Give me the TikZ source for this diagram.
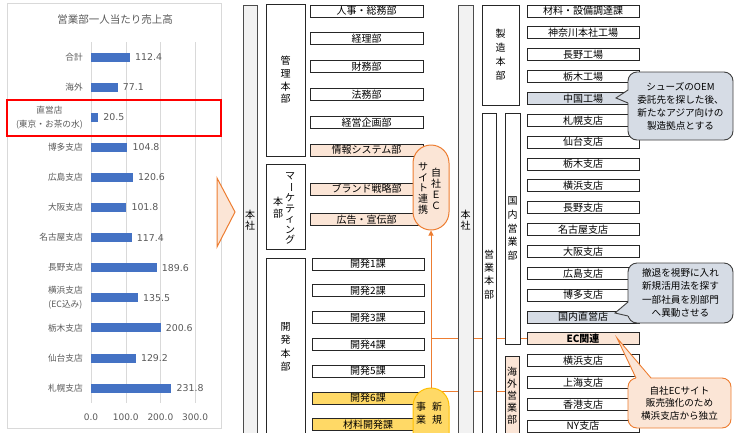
\documentclass[tikz,border=0pt]{standalone}
\usepackage{fontspec}
\setmainfont{Noto Sans CJK JP}
\newfontfamily\numfont{DejaVu Sans}
\usetikzlibrary{positioning, arrows.meta, calc, backgrounds}

\definecolor{axisgray}{HTML}{595959}
\definecolor{gridgray}{HTML}{D9D9D9}
\definecolor{barblue}{HTML}{4472C4}
\definecolor{ecorange}{HTML}{ED7D31}
\definecolor{paleorange}{HTML}{FBE5D6}
\definecolor{newyellow}{HTML}{FFD966}
\definecolor{yellowline}{HTML}{FFC000}
\definecolor{bluegray}{HTML}{D6DCE5}
\definecolor{hqgray}{HTML}{F2F2F2}

\begin{document}
\begin{tikzpicture}[
  x=1pt, y=-1pt,
  cat/.style={anchor=east, inner sep=1pt, text=axisgray, align=center, font=\fontsize{8.7}{14}\selectfont},
  val/.style={anchor=west, inner sep=1pt, text=axisgray, font=\numfont\fontsize{9.4}{10}\selectfont},
  tick/.style={inner sep=1pt, text=axisgray, font=\numfont\fontsize{9}{10}\selectfont},
  dept/.style={draw=black!85, fill=white, line width=0.8pt, minimum width=113pt, minimum height=12pt, inner sep=0, font=\fontsize{10}{11}\selectfont},
  deptec/.style={dept, fill=paleorange},
  deptnew/.style={dept, fill=newyellow},
  deptgray/.style={dept, fill=bluegray},
  orgbox/.style={draw=black!85, fill=white, line width=0.8pt, inner sep=0, align=center, font=\fontsize{10}{13}\selectfont},
  hqbar/.style={orgbox, draw=black!70, fill=hqgray, minimum width=14pt, minimum height=431pt, font=\fontsize{10}{11}\selectfont},
  tate/.style={inner sep=0, align=center, font=\fontsize{10}{10.8}\selectfont},
  capsule/.style={rounded corners=18pt, minimum width=36pt, line width=1pt, inner sep=0},
  link/.style={ecorange, line width=1pt},
  callgray/.style={draw=black!75, fill=bluegray, line width=0.9pt, rounded corners=9pt, inner sep=0, align=center},
  callorange/.style={draw=ecorange, fill=paleorange, line width=0.9pt, rounded corners=9pt, inner sep=0, align=center},
]
  \useasboundingbox (0,0) rectangle (737,432);

  % --- bar chart: sales per head ---
  \draw[gridgray] (7,3) rectangle (221,428);
  \node[text=axisgray, font=\fontsize{10.5}{12}\selectfont] (title) at (115,20) {営業部一人当たり売上高};
  \foreach \g [count=\k from 0] in {0,100,200,300}{
    \draw[gridgray] (91+0.347*\g,42) -- (91+0.347*\g,403);
    \node[tick] (tick\k) at (91+0.347*\g,417) {\g.0};
  }
  \foreach \name/\val [count=\i from 0] in {合計/112.4, 海外/77.1, {直営店\\(東京・お茶の水)}/20.5, 博多支店/104.8, 広島支店/120.6, 大阪支店/101.8, 名古屋支店/117.4, 長野支店/189.6, {横浜支店\\(EC込み)}/135.5, 栃木支店/200.6, 仙台支店/129.2, 札幌支店/231.8}{
    \pgfmathsetmacro\rowy{57+30.1*\i}
    \pgfmathsetmacro\barw{0.347*\val}
    \fill[barblue] (91,\rowy-4.5) rectangle ++(\barw,9);
    \node[cat] (cat\i) at (84,\rowy) {\name};
    \node[val] (val\i) at (91+\barw+4,\rowy) {\val};
  }
  \draw[red, line width=2pt] (7,100) rectangle (221,136);

  % --- transition arrow ---
  \draw[ecorange, fill=paleorange, line width=1pt] (217,178) -- (235,212) -- (217,247) -- cycle;

  % --- head office, left half ---
  \node[hqbar] (hqA) at (250,220.5) {本\\社};
  \node[orgbox, minimum width=39pt, minimum height=152pt, font=\fontsize{10}{12.7}\selectfont] (kanri) at (285.5,80) {管\\理\\本\\部};
  \node[orgbox, minimum width=39pt, minimum height=85pt] (mkt) at (285.5,206.5) {};
  \node[tate, font=\fontsize{10}{10.5}\selectfont] (mktR) at (290,208.5) {マ\\\rotatebox[origin=c]{-90}{ー}\\ケ\\テ\\ィ\\ン\\グ};
  \node[tate, font=\fontsize{10}{12}\selectfont] (mktL) at (278,208) {本\\部};
  \node[orgbox, minimum width=39pt, minimum height=178pt, font=\fontsize{10}{13.3}\selectfont] (kaihatsu) at (285.5,347) {開\\発\\本\\部};

  \foreach \t/\s [count=\i from 0] in {人事・総務部/dept, 経理部/dept, 財務部/dept, 法務部/dept, 経営企画部/dept, 情報システム部/deptec}
    \node[\s] (mg\i) at (366.5,11+27.8*\i) {\t};
  \node[deptec] (mk1) at (366.5,189) {ブランド戦略部};
  \node[deptec] (mk2) at (366.5,219.5) {広告・宣伝部};
  \foreach \t/\s [count=\i from 0] in {開発1課/dept, 開発2課/dept, 開発3課/dept, 開発4課/dept, 開発5課/dept, 開発6課/deptnew, 材料開発課/deptnew}
    \node[\s, minimum width=112pt] (dv\i) at (368,264+26.8*\i) {\t};

  % --- head office, right half ---
  \node[hqbar, minimum width=15pt] (hqB) at (465.5,220.5) {本\\社};
  \node[orgbox, minimum width=37pt, minimum height=100pt, font=\fontsize{10}{14}\selectfont] (seizo) at (500.5,55) {製\\造\\本\\部};
  \node[orgbox, minimum width=14pt, minimum height=323pt, font=\fontsize{10}{13.3}\selectfont] (eigyo) at (489,274.5) {営\\業\\本\\部};
  \node[orgbox, minimum width=15pt, minimum height=231pt, font=\fontsize{10}{13.7}\selectfont] (kokunai) at (512.5,228.5) {国\\内\\営\\業\\部};
  \node[orgbox, fill=paleorange, minimum width=14pt, minimum height=80pt, font=\fontsize{10}{12}\selectfont] (kaigai) at (512,396) {海\\外\\営\\業\\部};

  \foreach \t/\s [count=\i from 0] in {材料・設備調達課/dept, 神奈川本社工場/dept, 長野工場/dept, 栃木工場/dept, 中国工場/deptgray, 札幌支店/dept, 仙台支店/dept, 栃木支店/dept, 横浜支店/dept, 長野支店/dept, 名古屋支店/dept, 大阪支店/dept, 広島支店/dept, 博多支店/dept, 国内直営店/deptgray, \textbf{EC関連}/deptec, 横浜支店/dept, 上海支店/dept, 香港支店/dept, NY支店/dept}
    \node[\s, minimum width=112pt] (r\i) at (583,11+21.85*\i) {\t};

  % --- EC link and new business ---
  \node[capsule, draw=ecorange, fill=paleorange, minimum height=85pt] (ecsite) at (431,187.5) {};
  \node[tate] (ecsiteR) at (436,189) {自\\社\\Ｅ\\Ｃ};
  \node[tate] (ecsiteL) at (423,188.5) {サ\\イ\\ト\\連\\携};
  \node[capsule, draw=yellowline, fill=newyellow, minimum height=70pt] (shinki) at (431,423) {};
  \node[tate, font=\fontsize{10}{13}\selectfont] (shinkiR) at (437,413.5) {新\\規};
  \node[tate, font=\fontsize{10}{13}\selectfont] (shinkiL) at (421,413.5) {事\\業};

  \begin{scope}[on background layer]
    \draw[link] (ecsite.south |- r15.west) -- (r15.west);
    \draw[link] (ecsite.south |- dv5.north) -- (kaigai.west |- dv5.north);
  \end{scope}
  \draw[link, -{Triangle[length=5pt, width=5pt]}] (shinki.north) -- (ecsite.south);

  % --- callouts ---
  \node[callgray, minimum width=105pt, minimum height=68pt, font=\fontsize{9.6}{13}\selectfont] (oem) at (680.5,106) {シューズのOEM\\委託先を探した後、\\新たなアジア向けの\\製造拠点とする};
  \coordinate (oemtip) at (616,98);
  \fill[bluegray] (629,90) -- (oemtip) -- (629,103) -- cycle;
  \draw[black!75, line width=0.9pt] (628,90) -- (oemtip) -- (628,103);

  \node[callgray, minimum width=105pt, minimum height=60pt, font=\fontsize{9.6}{13.3}\selectfont] (retreat) at (680.5,293) {撤退を視野に入れ\\新規活用法を探す\\一部社員を別部門\\へ異動させる};
  \coordinate (retreattip) at (615,313);
  \fill[bluegray] (629,302) -- (retreattip) -- (629,316) -- cycle;
  \draw[black!75, line width=0.9pt] (628,302) -- (retreattip) -- (628,316);

  \node[callorange, minimum width=103pt, minimum height=50pt, font=\fontsize{9.6}{12.5}\selectfont] (ecshop) at (679.5,403) {自社ECサイト\\販売強化のため\\横浜支店から独立};
  \coordinate (ecshoptip) at (617,338);
  \fill[paleorange] (636,379) -- (ecshoptip) -- (651,379) -- cycle;
  \draw[ecorange, line width=0.9pt] (636,378) -- (ecshoptip) -- (651,378);
\end{tikzpicture}
\end{document}
